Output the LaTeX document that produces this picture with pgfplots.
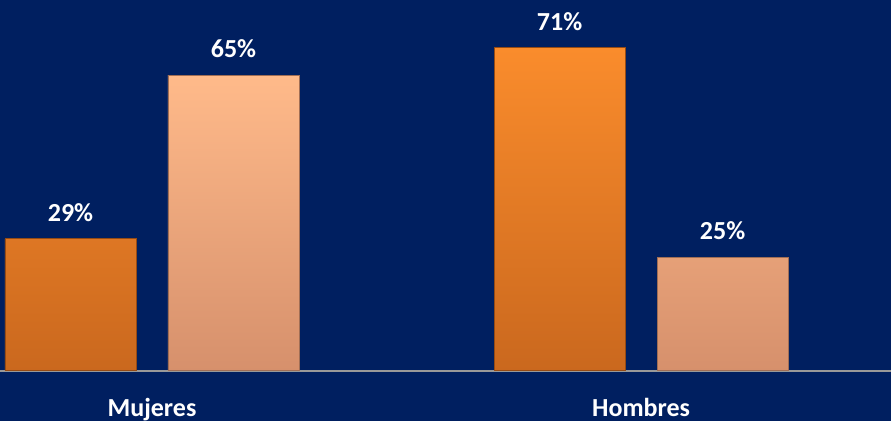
\documentclass[border=0pt]{standalone}
\usepackage{pgfplots}
\pgfplotsset{compat=1.18}
\usepackage{fontspec}
\setmainfont{Carlito}
\definecolor{bg}{RGB}{0,31,96}
\definecolor{oTop}{RGB}{250,140,44}
\definecolor{oBot}{RGB}{202,104,30}
\definecolor{oEdge}{RGB}{150,75,20}
\definecolor{pTop}{RGB}{255,186,138}
\definecolor{pBot}{RGB}{214,144,108}
\definecolor{pEdge}{RGB}{160,110,85}
\begin{document}
\begin{tikzpicture}
\fill[bg] (-2pt,-2pt) rectangle (447.5pt,212pt);
\begin{axis}[
  at={(0,0)}, anchor=south west,
  scale only axis, width=445.5pt, height=210pt,
  xmin=-0.3108, xmax=1.511, ymin=-10.8, ymax=81.5,
  axis x line=middle, axis y line=none,
  axis line style={draw=gray!80!white, -, line width=0.8pt},
  xtick={0,1}, xticklabels={Mujeres,Hombres},
  major tick length=0pt,
  xticklabel style={font=\bfseries\fontsize{13}{15}\selectfont, text=white, yshift=-10pt},
  ytick=\empty,
  bar width=0.268,
  /pgf/number format/assume math mode=true,
  nodes near coords={\pgfmathprintnumber{\pgfplotspointmeta}\%},
  nodes near coords style={font=\bfseries\fontsize{13}{15}\selectfont, text=white, yshift=5pt,
    /pgf/number format/assume math mode=true},
  clip=false,
]
\addplot[ybar, bar shift=0pt, draw=oEdge, line width=0.4pt, top color=oTop, bottom color=oBot]
  coordinates {(-0.1667,29) (0.8333,71)};
\addplot[ybar, bar shift=0pt, draw=pEdge, line width=0.4pt, top color=pTop, bottom color=pBot]
  coordinates {(0.1667,65) (1.1667,25)};
\end{axis}
\pgfresetboundingbox
\useasboundingbox (0,0) rectangle (445.5pt,210pt);
\end{tikzpicture}
\end{document}
